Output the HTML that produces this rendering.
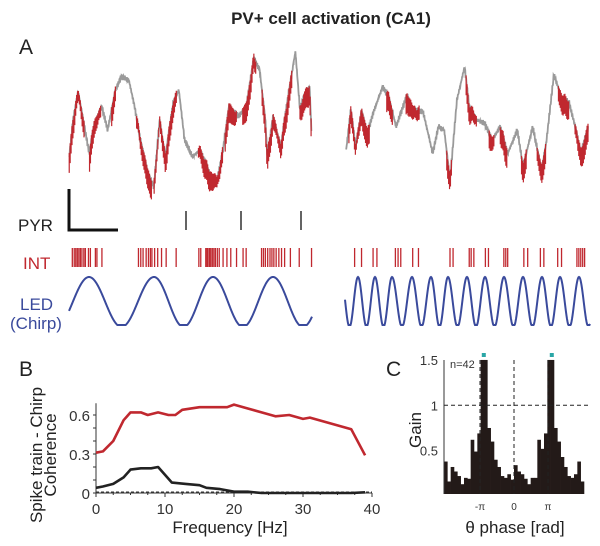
<!DOCTYPE html>
<html><head><meta charset="utf-8"><style>
html,body{margin:0;padding:0;background:#fff;}
svg{display:block;font-family:"Liberation Sans",Arial,sans-serif;}
</style></head><body>
<svg id="fig" width="600" height="546" viewBox="0 0 600 546" xmlns="http://www.w3.org/2000/svg">
<text x="331" y="24" text-anchor="middle" font-size="17" font-weight="bold" fill="#222">PV+ cell activation (CA1)</text>
<text x="19" y="54" font-size="21" fill="#222">A</text>
<text x="19" y="376" font-size="21" fill="#222">B</text>
<text x="386" y="376" font-size="21" fill="#222">C</text>
<g id="traces"></g>
<path d="M69 189 V230 H118" fill="none" stroke="#111" stroke-width="3"/>
<text x="18" y="231" font-size="17" fill="#222">PYR</text>
<text x="23" y="269" font-size="17" fill="#c0282f">INT</text>
<text x="20" y="310" font-size="17" fill="#3a4a9c">LED</text>
<text x="10" y="329" font-size="17" fill="#3a4a9c">(Chirp)</text>
<g id="raster"></g>
<g id="led"></g>
<g id="panelB"></g>
<g id="panelC"></g>
</svg>
<script>
// ---------- data ----------
const leftTraceX=[180,190,203,215,232,245,265,280,300,315,335,350,365,385,400,415,430,450,465,480,500,520,545,565,580,595,620,640,660,675,690,695,710,730,745,768,780,790,805,810];
const leftTraceY=[350,240,155,230,340,250,200,270,150,110,120,200,300,400,440,240,350,190,150,300,350,330,400,420,330,200,230,200,55,90,240,350,230,320,200,35,210,170,140,280];
const rightTraceX=[900,912,925,940,955,970,995,1010,1030,1058,1075,1100,1125,1140,1155,1170,1188,1208,1220,1240,1260,1280,1300,1320,1345,1360,1385,1408,1420,1440,1460,1480,1500,1510,1530];
const rightTraceY=[330,210,320,210,280,220,140,170,260,165,210,215,340,260,270,420,180,80,200,240,250,300,260,340,270,380,260,390,310,105,170,190,280,340,260];
const redStart=[180,232,290,355,400,430,515,585,630,680,740,778,905,1005,1055,1160,1210,1270,1300,1355,1395,1450,1495];
const redEnd=[220,262,300,395,440,460,580,615,665,740,760,812,960,1020,1090,1175,1240,1285,1320,1370,1420,1480,1530];
const pyrSpikes=[186,241,301];
const intSpikes=[188,193,197,201,205,209,213,218,222,230,235,248,252,265,360,366,372,380,386,391,395,402,410,420,432,458,517,522,535,538,541,545,548,552,556,560,565,570,580,590,600,615,632,640,680,685,690,696,702,707,712,718,725,732,740,755,778,810,922,940,970,980,1028,1035,1042,1073,1088,1170,1178,1220,1225,1232,1262,1270,1310,1315,1320,1362,1372,1405,1414,1450,1460,1500,1505,1510,1515,1520];
const chirpLeftPeaks=[89,154,213,273];
const chirpRightPeaks=[358,375,392,412,431,448,467,485,504,523,542,560,579];
const freqRed=[0,1,2.5,4,5,6.5,7.5,9,10.5,11.5,12.5,15,17.5,19,20,22,24,26,28,30,31,33,35,37,39];
const cohRed=[0.31,0.32,0.40,0.56,0.62,0.62,0.60,0.62,0.60,0.60,0.64,0.66,0.66,0.66,0.68,0.65,0.62,0.59,0.60,0.57,0.58,0.55,0.52,0.49,0.29];
const freqBlack=[0,1,2.5,4,5,6.5,8,9,11,13,15,16,18,20,22,24,30,37,39];
const cohBlack=[0.04,0.05,0.07,0.12,0.18,0.19,0.19,0.20,0.08,0.07,0.06,0.04,0.03,0.01,0.01,0,0,0,0.005];
const bTicksY=[0,0.3,0.6];
const bTicksX=[0,10,20,30,40];
const gainBins=[0.38,0.16,0.32,0.27,0.22,0.13,0.20,0.19,0.62,0.49,0.69,1.5,1.5,0.75,0.60,0.40,0.32,0.22,0.20,0.24,0.18,0.34,0.27,0.24,0.19,0.13,0.20,0.20,0.62,0.52,0.69,1.5,1.5,0.75,0.60,0.43,0.32,0.22,0.20,0.24,0.38,0.16];
const gainTicks=[0.5,1,1.5];
const phaseTickLabels=["-\u03c0","0","\u03c0"];
const phaseTickVals=[-Math.PI,0,Math.PI];
const peakMarks=[-Math.PI+0.35,Math.PI+0.35];

const NS="http://www.w3.org/2000/svg";
function mk(tag,attrs,parent){const e=document.createElementNS(NS,tag);for(const k in attrs)e.setAttribute(k,attrs[k]);parent.appendChild(e);return e;}

// ---------- traces ----------
const tr=document.getElementById('traces');
const tx=z=>z/2.6, ty=z=>40+z/3;
function interp(xs,ys,x){for(let i=0;i<xs.length-1;i++){if(x>=xs[i]&&x<=xs[i+1]){const t=(x-xs[i])/(xs[i+1]-xs[i]);return ys[i]+t*(ys[i+1]-ys[i]);}}return null;}
function wig(x){return 1.6*Math.sin(x*2.3)+1.1*Math.sin(x*5.7+1)+0.8*Math.sin(x*11.1);}
function isRed(zx){for(let i=0;i<redStart.length;i++)if(zx>=redStart[i]&&zx<=redEnd[i])return true;return false;}
[[leftTraceX,leftTraceY],[rightTraceX,rightTraceY]].forEach(([xs,ys],k)=>{
  let d='';
  for(let zx=xs[0];zx<=xs[xs.length-1];zx+=0.8){const y=ty(interp(xs,ys,zx))+wig(zx);d+=(d?'L':'M')+tx(zx).toFixed(2)+' '+y.toFixed(2);}
  const p=mk('path',{d:d,fill:'none',stroke:'#9a9a9a','stroke-width':1.8},tr);
  
  
  let r='';
  for(let zx=xs[0];zx<=xs[xs.length-1];zx+=2.4){if(!isRed(zx))continue;const y=ty(interp(xs,ys,zx))+wig(zx);const L=6+11*Math.abs(Math.sin(zx*1.37));r+='M'+tx(zx).toFixed(2)+' '+(y-3).toFixed(2)+'V'+(y+L).toFixed(2);}
  const rp=mk('path',{d:r,fill:'none',stroke:'#c0282f','stroke-width':1.2},tr);
  
  
});

// ---------- raster ----------
const ras=document.getElementById('raster');
pyrSpikes.forEach(x=>{const l=mk('line',{x1:x,x2:x,y1:211,y2:230,stroke:'#222','stroke-width':1.4},ras);

});
intSpikes.forEach(z=>{const x=tx(z);const l=mk('line',{x1:x,x2:x,y1:248,y2:267,stroke:'#c0282f','stroke-width':1.3},ras);

});

// ---------- LED ----------
const led=document.getElementById('led');
function waveY(x,peaks){
  const mid=302,amp=25;
  let p0=null,p1=null;
  for(let i=0;i<peaks.length;i++){if(peaks[i]<=x)p0=peaks[i];if(peaks[i]>x&&p1===null)p1=peaks[i];}
  let per;
  if(p0!==null&&p1!==null)per=p1-p0;else if(p1!==null){per=(peaks[1]-peaks[0]);p0=p1-per;}else{per=peaks[peaks.length-1]-peaks[peaks.length-2];}
  const ph=(x-p0)/per;
  let y=mid-amp*Math.cos(2*Math.PI*ph);
  return Math.min(y,325);
}
[[chirpLeftPeaks,69,312],[chirpRightPeaks,345,590]].forEach(([pk,a,b],k)=>{
  let d='';for(let x=a;x<=b;x+=0.5){d+=(d?'L':'M')+x.toFixed(1)+' '+waveY(x,pk).toFixed(2);}
  const p=mk('path',{d:d,fill:'none',stroke:'#3a4a9c','stroke-width':2},led);
  
  
});

// ---------- panel B ----------
const B=document.getElementById('panelB');
const bx=f=>96+f*6.9, by=v=>493-v*130;
let ax=mk('path',{d:`M${bx(0)} ${by(0.69)}V${by(0)}H${bx(40)}`,fill:'none',stroke:'#333','stroke-width':1},B);


for(let v=0;v<=0.61;v+=0.1){mk('line',{x1:bx(0)-3,x2:bx(0),y1:by(v),y2:by(v),stroke:'#333'},B);}
for(let f=0;f<=40;f+=2.5){mk('line',{x1:bx(f),x2:bx(f),y1:by(0),y2:by(0)+(f%10===0?4:2),stroke:'#333'},B);}
bTicksY.forEach(v=>{const t=mk('text',{x:bx(0)-6,y:by(v)+6,'text-anchor':'end','font-size':15,fill:'#333'},B);t.textContent=v;

});
bTicksX.forEach(f=>{const t=mk('text',{x:bx(f),y:514,'text-anchor':'middle','font-size':15,fill:'#333'},B);t.textContent=f;

});
let xt=mk('text',{x:230,y:533,'text-anchor':'middle','font-size':17,fill:'#222'},B);xt.textContent='Frequency [Hz]';


let yt1=mk('text',{x:0,y:0,'text-anchor':'middle','font-size':17,fill:'#222',transform:'translate(42,455) rotate(-90)'},B);yt1.textContent='Spike train - Chirp';


let yt2=mk('text',{x:0,y:0,'text-anchor':'middle','font-size':17,fill:'#222',transform:'translate(56,455) rotate(-90)'},B);yt2.textContent='Coherence';


let dl=mk('line',{x1:bx(0),x2:bx(40),y1:by(0.008),y2:by(0.008),stroke:'#333','stroke-dasharray':'3,2'},B);


let rl=mk('polyline',{points:freqRed.map((f,i)=>bx(f)+','+by(cohRed[i])).join(' '),fill:'none',stroke:'#c0282f','stroke-width':2.6,'stroke-linejoin':'round'},B);


let kl=mk('polyline',{points:freqBlack.map((f,i)=>bx(f)+','+by(cohBlack[i])).join(' '),fill:'none',stroke:'#222','stroke-width':2.6,'stroke-linejoin':'round'},B);



// ---------- panel C ----------
const C=document.getElementById('panelC');
const cx0=444, cx1=584, gy=g=>496-g*90.7;
const bw=(cx1-cx0)/gainBins.length;
const px=ph=>514+ph*(34/Math.PI);
gainBins.forEach((g,i)=>{const r=mk('rect',{x:(cx0+i*bw).toFixed(2),y:gy(g).toFixed(2),width:(bw+0.3).toFixed(2),height:(496-gy(g)-2).toFixed(2),fill:'#231a18'},C);

});
let cax=mk('line',{x1:cx0,x2:cx0,y1:gy(1.5),y2:494,stroke:'#333'},C);


gainTicks.forEach(g=>{const t=mk('text',{x:cx0-6,y:gy(g)+5,'text-anchor':'end','font-size':13,fill:'#333'},C);t.textContent=g;

});
phaseTickVals.forEach((v,i)=>{const t=mk('text',{x:px(v),y:510,'text-anchor':'middle','font-size':10,fill:'#333'},C);t.textContent=phaseTickLabels[i];


const l=mk('line',{x1:px(v),x2:px(v),y1:gy(1.5),y2:494,stroke:'#222','stroke-dasharray':'4,3'},C);

});
let hl=mk('line',{x1:cx0,x2:590,y1:gy(1),y2:gy(1),stroke:'#222','stroke-dasharray':'4,3'},C);


peakMarks.forEach(v=>{const r=mk('rect',{x:px(v)-2,y:353,width:4,height:4,fill:'#2aa6a6'},C);

});
let nt=mk('text',{x:450,y:368,'font-size':11,fill:'#333'},C);nt.textContent='n=42';


let gt=mk('text',{x:0,y:0,'text-anchor':'middle','font-size':17,fill:'#222',transform:'translate(421,430) rotate(-90)'},C);gt.textContent='Gain';


let pt=mk('text',{x:515,y:533,'text-anchor':'middle','font-size':17,fill:'#222'},C);pt.textContent='\u03b8 phase [rad]';


</script>
</body></html>
